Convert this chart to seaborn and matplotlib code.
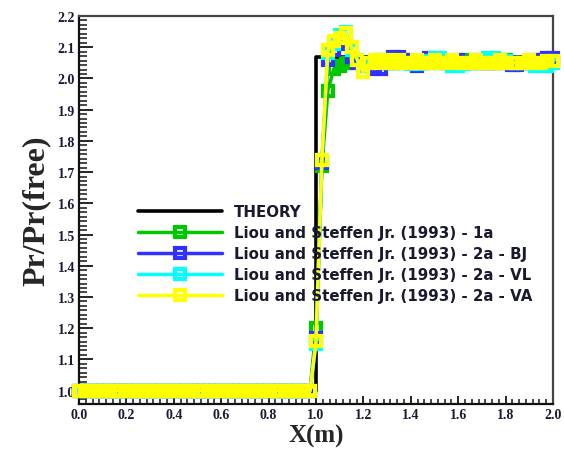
import numpy as np
import pandas as pd
import matplotlib
matplotlib.use("Agg")
import matplotlib.pyplot as plt
from matplotlib.ticker import MultipleLocator, AutoMinorLocator, FormatStrFormatter
import seaborn as sns

# positions x (m), pas 0.025
x_pos = [0.000, 0.025, 0.050, 0.075, 0.100, 0.125, 0.150, 0.175, 0.200, 0.225,
         0.250, 0.275, 0.300, 0.325, 0.350, 0.375, 0.400, 0.425, 0.450, 0.475,
         0.500, 0.525, 0.550, 0.575, 0.600, 0.625, 0.650, 0.675, 0.700, 0.725,
         0.750, 0.775, 0.800, 0.825, 0.850, 0.875, 0.900, 0.925, 0.950, 0.975,
         1.000, 1.025, 1.050, 1.075, 1.100, 1.125, 1.150, 1.175, 1.200, 1.225,
         1.250, 1.275, 1.300, 1.325, 1.350, 1.375, 1.400, 1.425, 1.450, 1.475,
         1.500, 1.525, 1.550, 1.575, 1.600, 1.625, 1.650, 1.675, 1.700, 1.725,
         1.750, 1.775, 1.800, 1.825, 1.850, 1.875, 1.900, 1.925, 1.950, 1.975,
         2.000]

left_part = [1.0, 1.0, 1.0, 1.0, 1.0, 1.0, 1.0, 1.0, 1.0, 1.0,
             1.0, 1.0, 1.0, 1.0, 1.0, 1.0, 1.0, 1.0, 1.0, 1.0,
             1.0, 1.0, 1.0, 1.0, 1.0, 1.0, 1.0, 1.0, 1.0, 1.0,
             1.0, 1.0, 1.0, 1.0, 1.0, 1.0, 1.0, 1.0, 1.0, 1.0]

y_1a = left_part + [
    1.20, 1.72, 1.96, 2.03, 2.04, 2.05, 2.06, 2.06, 2.05, 2.05,
    2.05, 2.06, 2.05, 2.05, 2.05, 2.06, 2.05, 2.05, 2.05, 2.05,
    2.06, 2.05, 2.05, 2.05, 2.05, 2.06, 2.05, 2.05, 2.05, 2.05,
    2.05, 2.05, 2.06, 2.05, 2.05, 2.05, 2.05, 2.05, 2.05, 2.05,
    2.05]

y_2a_bj = left_part + [
    1.17, 1.73, 2.06, 2.09, 2.12, 2.11, 2.07, 2.05, 2.04, 2.04,
    2.03, 2.03, 2.05, 2.07, 2.07, 2.06, 2.05, 2.04, 2.05, 2.066,
    2.066, 2.06, 2.05, 2.05, 2.06, 2.05, 2.05, 2.06, 2.05, 2.05,
    2.05, 2.06, 2.05, 2.043, 2.043, 2.05, 2.05, 2.06, 2.06, 2.066,
    2.066]

y_2a_vl = left_part + [
    1.15, 1.74, 2.08, 2.11, 2.14, 2.15, 2.09, 2.06, 2.04, 2.05,
    2.06, 2.06, 2.05, 2.05, 2.05, 2.05, 2.045, 2.045, 2.05, 2.055,
    2.065, 2.065, 2.055, 2.04, 2.04, 2.045, 2.05, 2.055, 2.06, 2.065,
    2.065, 2.06, 2.055, 2.05, 2.05, 2.05, 2.05, 2.04, 2.04, 2.04,
    2.05]

y_2a_va = left_part + [
    1.16, 1.74, 2.09, 2.12, 2.13, 2.145, 2.10, 2.06, 2.02, 2.05,
    2.06, 2.05, 2.06, 2.05, 2.06, 2.05, 2.05, 2.06, 2.05, 2.05,
    2.06, 2.05, 2.05, 2.06, 2.05, 2.05, 2.05, 2.06, 2.05, 2.05,
    2.05, 2.06, 2.05, 2.05, 2.05, 2.05, 2.06, 2.05, 2.05, 2.055,
    2.055]

# solutia exacta (treapta)
x_theory = [0.0, 1.0, 1.0, 2.0]
y_theory = [1.0, 1.0, 2.07, 2.07]

series = [
    ("Liou and Steffen Jr. (1993) - 1a", y_1a, "#00c800"),
    ("Liou and Steffen Jr. (1993) - 2a - BJ", y_2a_bj, "#3030ff"),
    ("Liou and Steffen Jr. (1993) - 2a - VL", y_2a_vl, "#00ffff"),
    ("Liou and Steffen Jr. (1993) - 2a - VA", y_2a_va, "#ffff00"),
]

sns.set_style("ticks")
plt.rcParams["font.family"] = ["DejaVu Sans"]

fig = plt.figure(figsize=(5.64, 4.52), dpi=100)
ax = fig.add_axes([79 / 564, 1 - 405 / 452, (553 - 79) / 564, (405 - 17) / 452])

df_theory = pd.DataFrame({"x": x_theory, "y": y_theory})
sns.lineplot(data=df_theory, x="x", y="y", ax=ax, color="black", lw=2.6,
             estimator=None, sort=False, label="THEORY", zorder=2)

for name, vals, col in series:
    df = pd.DataFrame({"x": x_pos, "y": vals})
    sns.lineplot(data=df, x="x", y="y", ax=ax, color=col, lw=2.5,
                 marker="s", markersize=7, markerfacecolor="none",
                 markeredgecolor=col, markeredgewidth=3.0,
                 estimator=None, sort=False, label=name, clip_on=False, zorder=3)

ax.set_xlim(0.0, 2.0)
ax.set_ylim(0.957, 2.2)

ax.xaxis.set_major_locator(MultipleLocator(0.2))
ax.xaxis.set_minor_locator(AutoMinorLocator(7))
ax.yaxis.set_major_locator(MultipleLocator(0.1))
ax.yaxis.set_minor_locator(AutoMinorLocator(7))
ax.xaxis.set_major_formatter(FormatStrFormatter("%.1f"))
ax.yaxis.set_major_formatter(FormatStrFormatter("%.1f"))

ax.tick_params(axis="y", which="major", direction="in", length=10, width=1.4)
ax.tick_params(axis="y", which="minor", direction="in", length=6, width=1.2)
ax.tick_params(axis="x", which="major", direction="in", length=6, width=1.4)
ax.tick_params(axis="x", which="minor", direction="in", length=3.5, width=1.2)
ax.tick_params(axis="both", which="both", top=False, right=False, pad=3)

for lab in ax.get_xticklabels() + ax.get_yticklabels():
    lab.set_family("Liberation Serif")
    lab.set_fontweight("bold")
    lab.set_fontsize(10)
    lab.set_color("#1a1a33")

for side in ["left", "bottom"]:
    ax.spines[side].set_linewidth(1.6)
    ax.spines[side].set_color("#111111")
for side in ["top", "right"]:
    ax.spines[side].set_visible(True)
    ax.spines[side].set_linewidth(1.6)
    ax.spines[side].set_color("#444444")

ax.set_xlabel("X(m)", family="Liberation Serif", fontweight="bold", fontsize=18, labelpad=2)
ax.set_ylabel("Pr/Pr(free)", family="Liberation Serif", fontweight="bold", fontsize=23, labelpad=5)

leg = ax.legend(loc="upper left", bbox_to_anchor=(138 / 564, 1 - 205 / 452),
                bbox_transform=fig.transFigure, frameon=False, borderpad=0,
                borderaxespad=0, handlelength=5.6, handletextpad=0.8,
                labelspacing=0.4, prop={"family": "DejaVu Sans", "weight": "bold", "size": 10.8})
for t in leg.get_texts():
    t.set_color("#1a1a2e")

plt.savefig("out.png", dpi=100)
